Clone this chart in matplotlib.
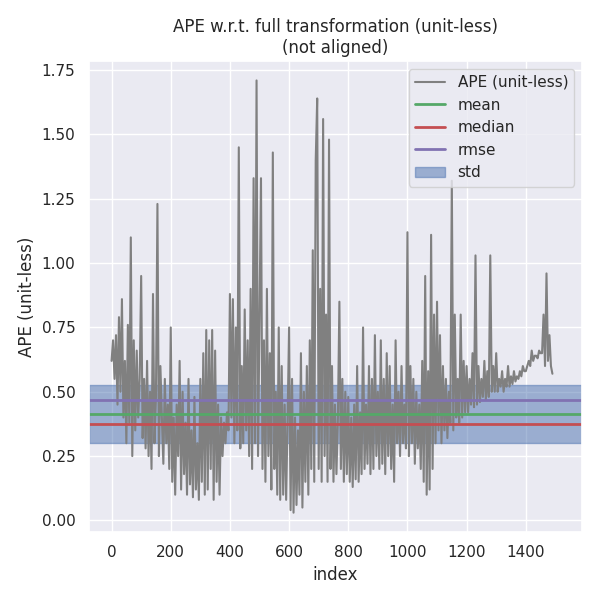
import numpy as np
import matplotlib
matplotlib.use("Agg")
import matplotlib.pyplot as plt
import seaborn as sns

# APE values, every 5th index
ape = [
    0.62, 0.70, 0.55, 0.72, 0.45, 0.79, 0.50, 0.86, 0.40, 0.62, 0.30, 0.76, 0.38, 1.10, 0.25, 0.70, 0.35, 0.66, 0.40, 0.55,
    0.95, 0.32, 0.55, 0.28, 0.62, 0.25, 0.50, 0.20, 0.88, 0.30, 0.48, 1.23, 0.25, 0.60, 0.40, 0.22, 0.55, 0.30, 0.45, 0.20,
    0.75, 0.15, 0.40, 0.10, 0.45, 0.25, 0.62, 0.12, 0.50, 0.18, 0.38, 0.10, 0.55, 0.14, 0.35, 0.09, 0.48, 0.12, 0.30, 0.08,
    0.55, 0.15, 0.65, 0.10, 0.74, 0.12, 0.70, 0.20, 0.74, 0.08, 0.66, 0.15, 0.45, 0.10, 0.40, 0.25, 0.38, 0.30, 0.42, 0.35,
    0.88, 0.40, 0.86, 0.30, 0.75, 0.35, 1.45, 0.28, 0.60, 0.30, 0.82, 0.35, 0.70, 0.25, 0.90, 0.20, 1.33, 0.30, 1.71, 0.25,
    0.80, 1.33, 0.20, 0.70, 0.15, 0.90, 0.25, 0.65, 0.12, 1.43, 0.20, 0.50, 0.10, 0.75, 0.08, 0.60, 0.10, 0.45, 0.08, 0.40,
    0.75, 0.04, 0.55, 0.03, 0.40, 0.06, 0.35, 0.10, 0.65, 0.05, 0.50, 0.15, 0.60, 0.10, 0.70, 0.20, 1.05, 0.15, 1.40, 1.64,
    0.20, 0.90, 0.15, 1.56, 0.25, 0.80, 0.15, 1.48, 0.20, 0.60, 0.15, 0.45, 0.18, 0.40, 0.85, 0.20, 0.55, 0.15, 0.50, 0.18,
    0.48, 0.15, 0.40, 0.13, 0.45, 0.16, 0.60, 0.15, 0.42, 0.18, 0.75, 0.20, 0.45, 0.22, 0.60, 0.18, 0.55, 0.20, 0.72, 0.25,
    0.50, 0.20, 0.70, 0.22, 0.55, 0.18, 0.65, 0.25, 0.60, 0.20, 0.45, 0.15, 0.70, 0.30, 0.50, 0.25, 0.60, 0.30, 0.45, 0.28,
    1.12, 0.25, 0.60, 0.30, 0.55, 0.22, 0.50, 0.28, 0.45, 0.20, 0.62, 0.15, 0.95, 0.10, 0.58, 0.12, 1.11, 0.20, 0.80, 0.30,
    0.85, 0.35, 0.72, 0.30, 0.60, 0.35, 0.55, 0.32, 0.50, 0.38, 1.32, 0.35, 0.80, 0.40, 0.55, 0.38, 0.80, 0.40, 0.62, 0.42,
    0.60, 0.42, 0.55, 0.45, 0.65, 0.44, 1.03, 0.45, 0.60, 0.46, 0.55, 0.48, 0.62, 0.47, 0.58, 0.48, 1.03, 0.50, 0.60, 0.50,
    0.65, 0.50, 0.55, 0.52, 0.58, 0.50, 0.55, 0.52, 0.60, 0.52, 0.56, 0.53, 0.58, 0.54, 0.56, 0.55, 0.58, 0.56, 0.60, 0.58,
    0.58, 0.60, 0.62, 0.60, 0.66, 0.62, 0.64, 0.64, 0.63, 0.66, 0.65, 0.65, 0.80, 0.60, 0.96, 0.62, 0.72, 0.60, 0.57,
]
index = np.arange(len(ape)) * 5

# statistics as shown in the reference
stat_mean = 0.413
stat_median = 0.375
stat_rmse = 0.467
stat_std = 0.113

sns.set_theme(style="darkgrid")
fig, ax = plt.subplots(figsize=(6, 6.02), dpi=100)

ax.plot(index, ape, color="gray", label="APE (unit-less)")
ax.axhline(stat_mean, color="#55a868", linewidth=2, label="mean")
ax.axhline(stat_median, color="#c44e52", linewidth=2, label="median")
ax.axhline(stat_rmse, color="#8172b2", linewidth=2, label="rmse")
ax.axhspan(stat_mean - stat_std, stat_mean + stat_std, color="#4c72b0", alpha=0.5, label="std")

ax.set_xlim(-78, 1590)
ax.set_ylim(-0.046, 1.785)
ax.set_xlabel("index")
ax.set_ylabel("APE (unit-less)")
ax.set_title("APE w.r.t. full transformation (unit-less)\n(not aligned)")
ax.legend(loc="upper right", frameon=True)

plt.tight_layout()
plt.savefig("out.png")
